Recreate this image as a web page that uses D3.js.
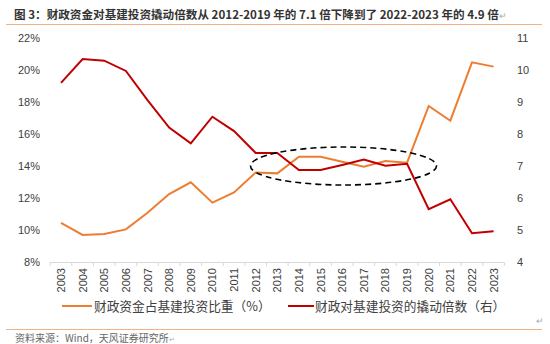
<!DOCTYPE html>
<html><head><meta charset="utf-8">
<script src="https://cdn.jsdelivr.net/npm/d3@7"></script>
<style>body{margin:0;background:#fff}svg{display:block}</style>
</head><body>
<script>
const years = ["2003","2004","2005","2006","2007","2008","2009","2010","2011","2012","2013","2014","2015","2016","2017","2018","2019","2020","2021","2022","2023"];
const shareSeries = [10.45,9.69,9.75,10.04,11.08,12.25,12.98,11.71,12.35,13.6,13.54,14.58,14.58,14.27,13.96,14.31,14.21,17.75,16.83,20.48,20.21];
const multiplierSeries = [9.60,10.34,10.29,9.97,9.06,8.20,7.71,8.54,8.09,7.41,7.41,6.875,6.875,7.03,7.20,7.01,7.07,5.65,5.96,4.90,4.96];
const leftTicks = [8,10,12,14,16,18,20,22];
const rightTicks = [4,5,6,7,8,9,10,11];
const titleText = "图 3：财政资金对基建投资撬动倍数从 2012-2019 年的 7.1 倍下降到了 2022-2023 年的 4.9 倍";
const legendNames = ["财政资金占基建投资比重（%）","财政对基建投资的撬动倍数（右）"];
const sourceText = "资料来源：Wind，天风证券研究所";

const W=550,H=344;
const svg=d3.select("body").append("svg").attr("width",W).attr("height",H);
const font="'Liberation Sans','Noto Sans CJK SC',sans-serif";
const cjk="'Noto Sans CJK SC',sans-serif";

const x=d3.scalePoint().domain(years).range([61,493.6]);
const step=x.step();
const yL=d3.scaleLinear().domain([8,22]).range([262,38]);
const yR=d3.scaleLinear().domain([4,11]).range([262,38]);

// title
const tt=svg.append("text").attr("x",14).attr("y",19).attr("font-family",cjk).attr("font-weight","bold")
  .attr("font-size",11.6).attr("fill","#333");
tt.append("tspan").text(titleText);
tt.append("tspan").attr("font-weight","normal").attr("font-size",9).attr("fill","#aaa").text("↵");
svg.append("line").attr("x1",6).attr("x2",542).attr("y1",24.5).attr("y2",24.5).attr("stroke","#F4B183").attr("stroke-width",1);

// left axis
const gl=svg.append("g").attr("transform","translate(50,0)")
  .call(d3.axisLeft(yL).tickValues(leftTicks).tickSize(0).tickPadding(10).tickFormat(d=>d+"%"));
gl.select(".domain").remove();
gl.selectAll("text").attr("font-family",font).attr("font-size",11).attr("fill","#404040");

// right axis
const gr=svg.append("g").attr("transform","translate(509,0)")
  .call(d3.axisRight(yR).tickValues(rightTicks).tickSize(0).tickPadding(8).tickFormat(d3.format("d")));
gr.select(".domain").remove();
gr.selectAll("text").attr("font-family",font).attr("font-size",11).attr("fill","#404040");

// x axis
const axisY=262;
svg.append("line").attr("x1",x(years[0])-step/2).attr("x2",x(years[years.length-1])+step/2)
  .attr("y1",axisY+0.5).attr("y2",axisY+0.5).attr("stroke","#d9d9d9");
const tickXs=years.map(d=>x(d)-step/2).concat([x(years[years.length-1])+step/2]);
svg.selectAll(".xt").data(tickXs).join("line").attr("x1",d=>d).attr("x2",d=>d)
  .attr("y1",axisY).attr("y2",axisY+4).attr("stroke","#d9d9d9");
svg.selectAll(".xl").data(years).join("text")
  .attr("transform",d=>`translate(${x(d)+4},${axisY+6}) rotate(-90)`)
  .attr("text-anchor","end").attr("font-family",font).attr("font-size",11).attr("fill","#404040").text(d=>d);

// lines
const lineL=d3.line().x((d,i)=>x(years[i])).y(d=>yL(d));
const lineR=d3.line().x((d,i)=>x(years[i])).y(d=>yR(d));
svg.append("path").attr("d",lineL(shareSeries)).attr("fill","none").attr("stroke","#ED7D31").attr("stroke-width",2);
svg.append("path").attr("d",lineR(multiplierSeries)).attr("fill","none").attr("stroke","#C00000").attr("stroke-width",2);

// ellipse annotation
svg.append("ellipse").attr("cx",343.5).attr("cy",166).attr("rx",93).attr("ry",19)
  .attr("fill","none").attr("stroke","#000").attr("stroke-width",1.6).attr("stroke-dasharray","6,4");

// legend
const ly=306;
svg.append("line").attr("x1",62).attr("x2",92).attr("y1",ly).attr("y2",ly).attr("stroke","#ED7D31").attr("stroke-width",2);
svg.append("text").attr("x",94).attr("y",ly+4.5).attr("font-family",cjk).attr("font-size",12.7).attr("fill","#404040").text(legendNames[0]);
svg.append("line").attr("x1",288).attr("x2",314).attr("y1",ly).attr("y2",ly).attr("stroke","#C00000").attr("stroke-width",2);
svg.append("text").attr("x",315).attr("y",ly+4.5).attr("font-family",cjk).attr("font-size",12.7).attr("fill","#404040").text(legendNames[1]);
svg.append("text").attr("x",536).attr("y",324).attr("font-family",cjk).attr("font-size",9).attr("fill","#aaa").text("↵");

// footer
svg.append("line").attr("x1",6).attr("x2",542).attr("y1",329.5).attr("y2",329.5).attr("stroke","#F4B183").attr("stroke-width",1);
const ft=svg.append("text").attr("x",15).attr("y",341.5).attr("font-family",cjk).attr("font-size",10).attr("fill","#666");
ft.append("tspan").text(sourceText);
ft.append("tspan").attr("font-size",7).attr("fill","#aaa").text("↵");
</script>
</body></html>
